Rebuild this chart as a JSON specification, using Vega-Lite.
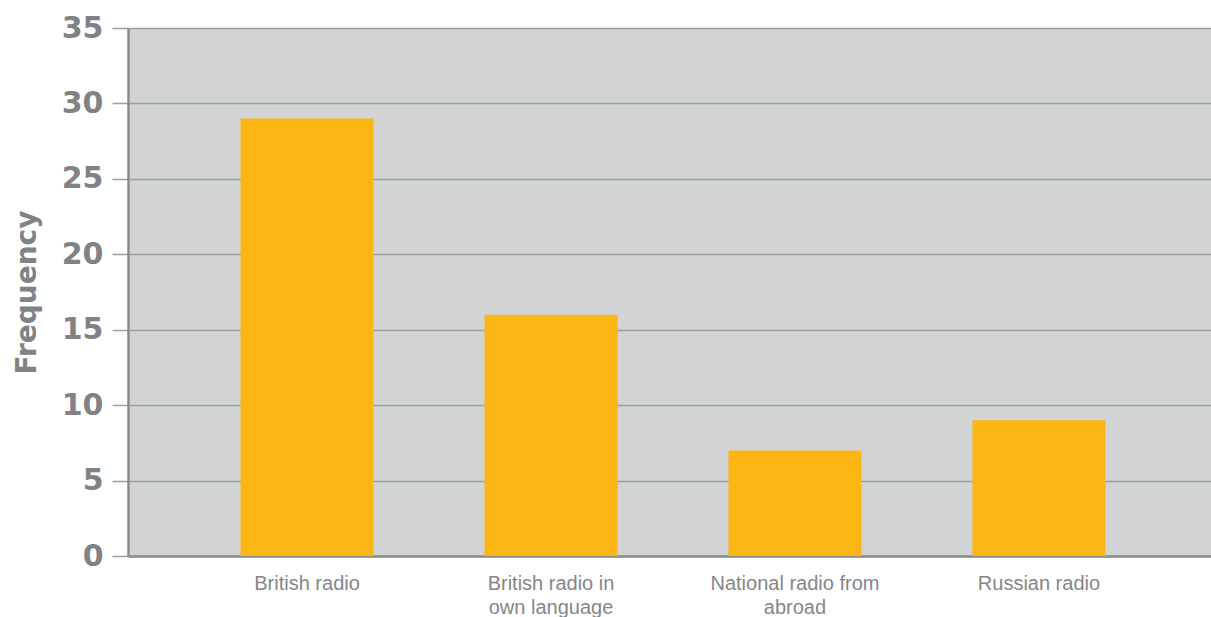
{
  "$schema": "https://vega.github.io/schema/vega-lite/v6.json",
  "autosize": "none",
  "width": 1083,
  "height": 528,
  "padding": {"left": 128, "top": 28, "right": 0, "bottom": 61},
  "background": "#ffffff",
  "config": {
    "view": {"fill": "#d1d3d4", "stroke": null},
    "font": "Liberation Sans"
  },
  "data": {
    "values": [
      {"source": "British radio", "frequency": 29},
      {"source": "British radio in own language", "frequency": 16},
      {"source": "National radio from abroad", "frequency": 7},
      {"source": "Russian radio", "frequency": 9}
    ]
  },
  "mark": {"type": "bar", "color": "#fcb614"},
  "encoding": {
    "x": {
      "field": "source",
      "type": "nominal",
      "sort": null,
      "scale": {"paddingInner": 0.455, "paddingOuter": 0.447, "align": 0.516},
      "axis": {
        "title": null,
        "labelAngle": 0,
        "labelFont": "Liberation Sans",
        "labelFontSize": 20,
        "labelColor": "#858689",
        "labelLineHeight": 24,
        "labelPadding": 17,
        "labelBaseline": "top",
        "ticks": false,
        "domainColor": "#8a8b8d",
        "domainWidth": 2.5,
        "grid": false,
        "labelExpr": "datum.label == 'British radio in own language' ? ['British radio in', 'own language'] : datum.label == 'National radio from abroad' ? ['National radio from', 'abroad'] : datum.label"
      }
    },
    "y": {
      "field": "frequency",
      "type": "quantitative",
      "scale": {"domain": [0, 35], "nice": false},
      "axis": {
        "title": "Frequency",
        "titleFont": "DejaVu Sans",
        "titleFontSize": 28,
        "titleFontWeight": "bold",
        "titleColor": "#808285",
        "titlePadding": 20,
        "values": [0, 5, 10, 15, 20, 25, 30, 35],
        "labelFont": "DejaVu Sans",
        "labelFontSize": 30,
        "labelFontWeight": "bold",
        "labelColor": "#808285",
        "labelPadding": 9,
        "tickSize": 16,
        "tickColor": "#9c9ea1",
        "tickWidth": 1.5,
        "domainColor": "#8a8b8d",
        "domainWidth": 2.5,
        "grid": true,
        "gridColor": "#9c9ea1",
        "gridWidth": 1.5
      }
    }
  }
}
